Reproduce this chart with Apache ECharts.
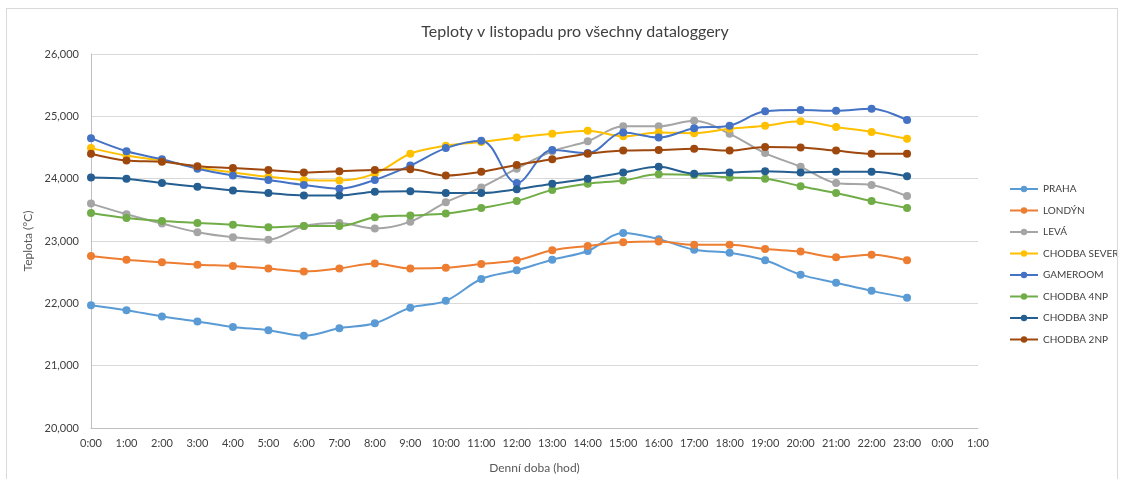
<!DOCTYPE html>
<html>
<head>
<meta charset="utf-8">
<title>Teploty v listopadu</title>
<script src="https://cdn.jsdelivr.net/npm/echarts@6/dist/echarts.min.js"></script>
<style>
    html, body { margin: 0; padding: 0; background: #fff; }
    #chart { width: 1122px; height: 479px; }
    #frame {
        position: absolute; left: 6px; top: 8px; width: 1110px; height: 475px;
        border: 1px solid #d9d9d9; pointer-events: none;
    }
</style>
</head>
<body>
<div id="chart"></div>
<div id="frame"></div>
<script>
// hodiny (poslední dvě kategorie jsou v originále prázdné)
var hours = ['0:00', '1:00', '2:00', '3:00', '4:00', '5:00', '6:00', '7:00', '8:00', '9:00', '10:00', '11:00',
    '12:00', '13:00', '14:00', '15:00', '16:00', '17:00', '18:00', '19:00', '20:00', '21:00', '22:00', '23:00',
    '0:00', '1:00'];

var praha = [21.97, 21.89, 21.79, 21.71, 21.62, 21.57, 21.48, 21.60, 21.68, 21.93, 22.04, 22.39,
    22.53, 22.70, 22.84, 23.13, 23.03, 22.86, 22.81, 22.69, 22.46, 22.33, 22.20, 22.09];
var londyn = [22.76, 22.70, 22.66, 22.62, 22.60, 22.56, 22.51, 22.56, 22.64, 22.56, 22.57, 22.63,
    22.69, 22.85, 22.92, 22.98, 22.99, 22.94, 22.94, 22.87, 22.83, 22.74, 22.78, 22.69];
var leva = [23.60, 23.43, 23.28, 23.14, 23.06, 23.02, 23.24, 23.29, 23.20, 23.31, 23.62, 23.86,
    24.16, 24.44, 24.60, 24.84, 24.84, 24.93, 24.72, 24.41, 24.19, 23.93, 23.90, 23.72];
var chodbaSever = [24.49, 24.37, 24.29, 24.18, 24.10, 24.03, 23.98, 23.97, 24.08, 24.40, 24.53, 24.59,
    24.66, 24.72, 24.77, 24.68, 24.74, 24.73, 24.80, 24.85, 24.92, 24.83, 24.75, 24.64];
var gameroom = [24.65, 24.44, 24.31, 24.16, 24.05, 23.98, 23.90, 23.84, 23.98, 24.21, 24.49, 24.61,
    23.93, 24.46, 24.41, 24.74, 24.66, 24.81, 24.85, 25.08, 25.10, 25.09, 25.12, 24.94];
var chodba4np = [23.45, 23.37, 23.32, 23.29, 23.26, 23.22, 23.24, 23.24, 23.38, 23.41, 23.44, 23.53,
    23.64, 23.82, 23.92, 23.97, 24.07, 24.06, 24.02, 24.00, 23.88, 23.77, 23.64, 23.53];
var chodba3np = [24.02, 24.00, 23.93, 23.87, 23.81, 23.77, 23.73, 23.73, 23.79, 23.80, 23.77, 23.77,
    23.83, 23.92, 24.00, 24.10, 24.19, 24.08, 24.10, 24.12, 24.10, 24.11, 24.11, 24.04];
var chodba2np = [24.40, 24.29, 24.27, 24.20, 24.17, 24.14, 24.10, 24.12, 24.14, 24.15, 24.05, 24.11,
    24.22, 24.31, 24.40, 24.45, 24.46, 24.48, 24.45, 24.51, 24.50, 24.45, 24.40, 24.40];

var names = ['PRAHA', 'LONDÝN', 'LEVÁ', 'CHODBA SEVER', 'GAMEROOM', 'CHODBA 4NP', 'CHODBA 3NP', 'CHODBA 2NP'];
var colors = ['#5B9BD5', '#ED7D31', '#A5A5A5', '#FFC000', '#4472C4', '#70AD47', '#255E91', '#9E480E'];
var values = [praha, londyn, leva, chodbaSever, gameroom, chodba4np, chodba3np, chodba2np];

var font = 'Lato, "Open Sans", sans-serif';

var chart = echarts.init(document.getElementById('chart'));

var series = names.map(function (n, i) {
    return {
        name: n,
        type: 'line',
        data: values[i],
        smooth: 0.35,
        symbol: 'circle',
        symbolSize: 8,
        lineStyle: { width: 2, color: colors[i] },
        itemStyle: { color: colors[i] },
        emphasis: { disabled: true }
    };
});

chart.setOption({
    animation: false,
    color: colors,
    title: {
        text: 'Teploty v listopadu pro všechny dataloggery',
        left: 570,
        textAlign: 'center',
        top: 19,
        textStyle: { fontFamily: font, fontSize: 16, fontWeight: 'normal', color: '#404040' }
    },
    legend: {
        orient: 'vertical',
        left: 1004,
        top: 179,
        itemWidth: 28,
        itemHeight: 8,
        itemGap: 11.5,
        textStyle: { fontFamily: font, fontSize: 10, color: '#404040' },
        data: names
    },
    grid: { left: 91, right: 144, top: 54, bottom: 50 },
    xAxis: {
        type: 'category',
        data: hours,
        boundaryGap: false,
        name: 'Denní doba (hod)',
        nameLocation: 'middle',
        nameGap: 34,
        nameTextStyle: { fontFamily: font, fontSize: 12, color: '#595959' },
        axisLine: { lineStyle: { color: '#bfbfbf' } },
        axisTick: { show: false },
        axisLabel: { interval: 0, fontFamily: font, fontSize: 11, color: '#404040', margin: 10 },
        splitLine: { show: false }
    },
    yAxis: {
        type: 'value',
        min: 20,
        max: 26,
        interval: 1,
        name: 'Teplota (°C)',
        nameLocation: 'middle',
        nameGap: 56,
        nameTextStyle: { fontFamily: font, fontSize: 12, color: '#595959' },
        axisLine: { show: true, lineStyle: { color: '#bfbfbf' } },
        axisTick: { show: false },
        axisLabel: {
            fontFamily: font, fontSize: 11, color: '#404040', margin: 12,
            formatter: function (v) { return v.toFixed(3).replace('.', ','); }
        },
        splitLine: { lineStyle: { color: '#d9d9d9' } }
    },
    series: series
});
</script>
</body>
</html>
